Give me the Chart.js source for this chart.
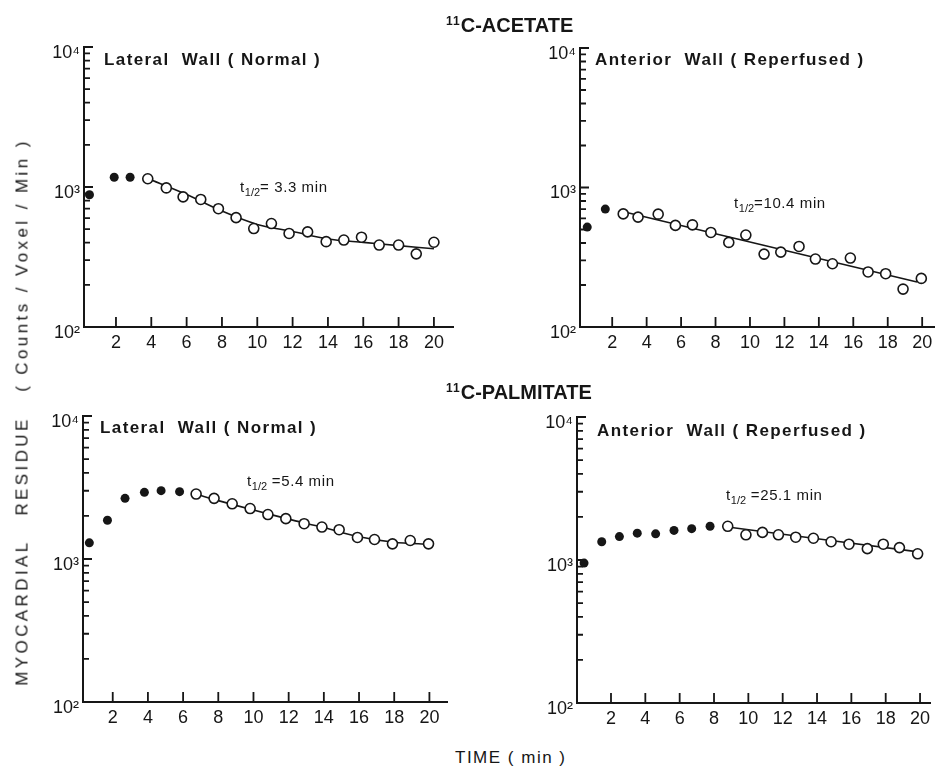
<!DOCTYPE html>
<html>
<head>
<meta charset="utf-8">
<title>Myocardial residue curves</title>
<script src="https://cdn.jsdelivr.net/npm/chart.js@4.4.1/dist/chart.umd.min.js"></script>
<style>
  body { margin: 0; background: #fff; }
  #page { position: relative; width: 941px; height: 769px; overflow: hidden;
          font-family: 'Liberation Sans', Arial, sans-serif; color: #161616; }
  canvas { position: absolute; }
  .txt { position: absolute; white-space: pre; line-height: 1; }
  .head { font-size: 20px; font-weight: bold; }
  .head .iso { font-size: 12px; position: relative; top: -7px; letter-spacing: 1px; }
  .title { font-size: 17px; font-weight: bold; letter-spacing: 1.4px; }
  .half { font-size: 15px; letter-spacing: 0.6px; }
  .half .sub { font-size: 11px; position: relative; top: 4px; letter-spacing: 0; }
  .ylab { font-size: 17px; letter-spacing: 3.4px; transform: translate(-50%, -50%) rotate(-90deg); }
  .xlab { font-size: 17px; letter-spacing: 1.5px; }
</style>
</head>
<body>
<div id="page">
  <canvas id="acetate-lateral"></canvas>
  <canvas id="acetate-anterior"></canvas>
  <canvas id="palmitate-lateral"></canvas>
  <canvas id="palmitate-anterior"></canvas>

  <div class="txt head" style="left:446px; top:15px;"><span class="iso">11</span>C-ACETATE</div>
  <div class="txt head" style="left:446px; top:382px;"><span class="iso">11</span>C-PALMITATE</div>

  <div class="txt title" style="left:104px; top:51px;">Lateral  Wall ( Normal )</div>
  <div class="txt title" style="left:595px; top:51px;">Anterior  Wall ( Reperfused )</div>
  <div class="txt title" style="left:100px; top:419px;">Lateral  Wall ( Normal )</div>
  <div class="txt title" style="left:597px; top:422px;">Anterior  Wall ( Reperfused )</div>

  <div class="txt half" style="left:240px; top:179px;">t<span class="sub">1/2</span>= 3.3 min</div>
  <div class="txt half" style="left:734px; top:195px;">t<span class="sub">1/2</span>=10.4 min</div>
  <div class="txt half" style="left:247px; top:473px;">t<span class="sub">1/2</span> =5.4 min</div>
  <div class="txt half" style="left:726px; top:487px;">t<span class="sub">1/2</span> =25.1 min</div>

  <div class="txt ylab" style="left:22px; top:412px;">MYOCARDIAL   RESIDUE   ( Counts / Voxel / Min )</div>
  <div class="txt xlab" style="left:455px; top:749px;">TIME ( min )</div>
</div>

<script>
// time axis ticks (min) and log count ticks
const xTickValues = [2, 4, 6, 8, 10, 12, 14, 16, 18, 20];
const yTickValues = [100, 200, 300, 400, 500, 600, 700, 800, 900,
                     1000, 2000, 3000, 4000, 5000, 6000, 7000, 8000, 9000, 10000];
const yMajorValues = [100, 1000, 10000];
const yMajorLabels = ['10²', '10³', '10⁴'];

// 11C-acetate, lateral wall (normal)
const acLatEarlyT = [0.5, 1.9, 2.8];
const acLatEarlyY = [880, 1175, 1175];
const acLatT = [3.8, 4.85, 5.8, 6.8, 7.8, 8.8, 9.8, 10.8, 11.8, 12.85, 13.9, 14.9, 15.9, 16.9, 18, 19, 20];
const acLatY = [1145, 985, 850, 815, 700, 604, 505, 548, 466, 478, 407, 418, 438, 385, 385, 333, 403];
const acLatFitT = [3.8, 6, 8, 10, 12, 14, 16, 18, 20];
const acLatFitY = [1150, 884, 673, 540, 481, 425, 402, 381, 362];

// 11C-acetate, anterior wall (reperfused)
const acAntEarlyT = [0.55, 1.6];
const acAntEarlyY = [520, 700];
const acAntT = [2.64, 3.5, 4.67, 5.67, 6.66, 7.73, 8.77, 9.76, 10.82, 11.79, 12.85, 13.8, 14.79, 15.83, 16.86, 17.88, 18.89, 19.95];
const acAntY = [647, 613, 644, 535, 540, 476, 404, 456, 333, 344, 378, 307, 284, 312, 248, 241, 187, 223];
const acAntFitT = [2.6, 19.7];
const acAntFitY = [673, 210];

// 11C-palmitate, lateral wall (normal)
const paLatEarlyT = [0.67, 1.7, 2.7, 3.8, 4.75, 5.8];
const paLatEarlyY = [1297, 1866, 2655, 2924, 3006, 2958];
const paLatT = [6.74, 7.76, 8.79, 9.81, 10.82, 11.84, 12.88, 13.89, 14.87, 15.91, 16.88, 17.9, 18.91, 19.95];
const paLatY = [2845, 2655, 2432, 2254, 2046, 1915, 1766, 1673, 1603, 1415, 1369, 1276, 1347, 1276];
const paLatFitT = [6.74, 8, 10, 12, 14, 16, 18, 20];
const paLatFitY = [2845, 2560, 2200, 1900, 1660, 1430, 1310, 1265];

// 11C-palmitate, anterior wall (reperfused)
const paAntEarlyT = [0.43, 1.46, 2.49, 3.53, 4.6, 5.67, 6.7, 7.77];
const paAntEarlyY = [951, 1342, 1458, 1541, 1524, 1611, 1656, 1721];
const paAntT = [8.8, 9.86, 10.82, 11.75, 12.76, 13.79, 14.82, 15.86, 16.93, 17.86, 18.8, 19.86];
const paAntY = [1721, 1500, 1560, 1500, 1443, 1419, 1342, 1290, 1201, 1290, 1221, 1105];
const paAntFitT = [8.8, 19.9];
const paAntFitY = [1700, 1140];

const INK = '#161616';
const FONT = "'Liberation Sans', Arial, sans-serif";

const panels = [
  { id: 'acetate-lateral',   box: [20, 27, 450, 345],  area: [84, 47, 453, 327],  xMin: 0.19, xMax: 21.08,
    early: [acLatEarlyT, acLatEarlyY], open: [acLatT, acLatY], fit: [acLatFitT, acLatFitY] },
  { id: 'acetate-anterior',  box: [516, 28, 425, 344], area: [580, 48, 935, 327], xMin: 0.13, xMax: 20.71,
    early: [acAntEarlyT, acAntEarlyY], open: [acAntT, acAntY], fit: [acAntFitT, acAntFitY] },
  { id: 'palmitate-lateral', box: [19, 396, 445, 351], area: [83, 416, 447, 702], xMin: 0.31, xMax: 21.0,
    early: [paLatEarlyT, paLatEarlyY], open: [paLatT, paLatY], fit: [paLatFitT, paLatFitY] },
  { id: 'palmitate-anterior', box: [513, 397, 428, 351], area: [577, 417, 930, 703], xMin: 0.02, xMax: 20.58,
    early: [paAntEarlyT, paAntEarlyY], open: [paAntT, paAntY], fit: [paAntFitT, paAntFitY] }
];

function toPoints(pair) {
  return pair[0].map((t, i) => ({ x: t, y: pair[1][i] }));
}

// tick marks point into the plot, like a hand-ruled log grid
const innerTicks = {
  id: 'innerTicks',
  beforeDatasetsDraw(chart) {
    const { ctx, chartArea, scales: { x, y } } = chart;
    ctx.save();
    ctx.strokeStyle = INK;
    ctx.lineWidth = 1.8;
    ctx.beginPath();
    x.ticks.forEach(t => {
      const px = x.getPixelForValue(t.value);
      ctx.moveTo(px, chartArea.bottom);
      ctx.lineTo(px, chartArea.bottom - 10);
    });
    y.ticks.forEach(t => {
      const py = y.getPixelForValue(t.value);
      const len = yMajorValues.includes(t.value) ? 9 : 6;
      ctx.moveTo(chartArea.left, py);
      ctx.lineTo(chartArea.left + len, py);
    });
    ctx.stroke();
    ctx.restore();
  }
};

panels.forEach(p => {
  const [left, top, width, height] = p.box;
  const [aLeft, aTop, aRight, aBottom] = p.area;
  const canvas = document.getElementById(p.id);
  canvas.width = width;
  canvas.height = height;
  canvas.style.left = left + 'px';
  canvas.style.top = top + 'px';

  const yAxisWidth = aLeft - left;
  const xAxisHeight = top + height - aBottom;

  new Chart(canvas.getContext('2d'), {
    type: 'scatter',
    data: {
      datasets: [
        { data: toPoints(p.early), pointRadius: 4.5, pointBackgroundColor: INK, pointBorderColor: INK,
          pointBorderWidth: 0, showLine: false, clip: false, order: 0 },
        { data: toPoints(p.open), pointRadius: 5, pointBackgroundColor: '#fff', pointBorderColor: INK,
          pointBorderWidth: 1.6, showLine: false, clip: false, order: 1 },
        { data: toPoints(p.fit), pointRadius: 0, borderColor: INK, borderWidth: 1.6,
          showLine: true, tension: 0.3, clip: false, order: 2 }
      ]
    },
    options: {
      responsive: false,
      animation: false,
      devicePixelRatio: 1,
      layout: { padding: { left: 0, top: aTop - top, right: left + width - aRight, bottom: 0 } },
      plugins: { legend: { display: false }, tooltip: { enabled: false } },
      scales: {
        x: {
          type: 'linear',
          min: p.xMin,
          max: p.xMax,
          grid: { display: false, drawTicks: false, tickLength: 0 },
          border: { display: true, color: INK, width: 2 },
          afterBuildTicks: s => { s.ticks = xTickValues.map(v => ({ value: v })); },
          afterFit: s => { s.height = xAxisHeight; },
          ticks: { color: INK, font: { family: FONT, size: 18 }, padding: 5,
                   autoSkip: false, maxRotation: 0, callback: v => String(v) }
        },
        y: {
          type: 'logarithmic',
          min: 100,
          max: 10000,
          grid: { display: false, drawTicks: false, tickLength: 0 },
          border: { display: true, color: INK, width: 2 },
          afterBuildTicks: s => { s.ticks = yTickValues.map(v => ({ value: v })); },
          afterFit: s => { s.width = yAxisWidth; },
          ticks: {
            color: INK, font: { family: FONT, size: 18 }, padding: 4, labelOffset: 6, autoSkip: false,
            callback: v => {
              const i = yMajorValues.indexOf(v);
              return i >= 0 ? yMajorLabels[i] : '';
            }
          }
        }
      }
    },
    plugins: [innerTicks]
  });
});
</script>
</body>
</html>
